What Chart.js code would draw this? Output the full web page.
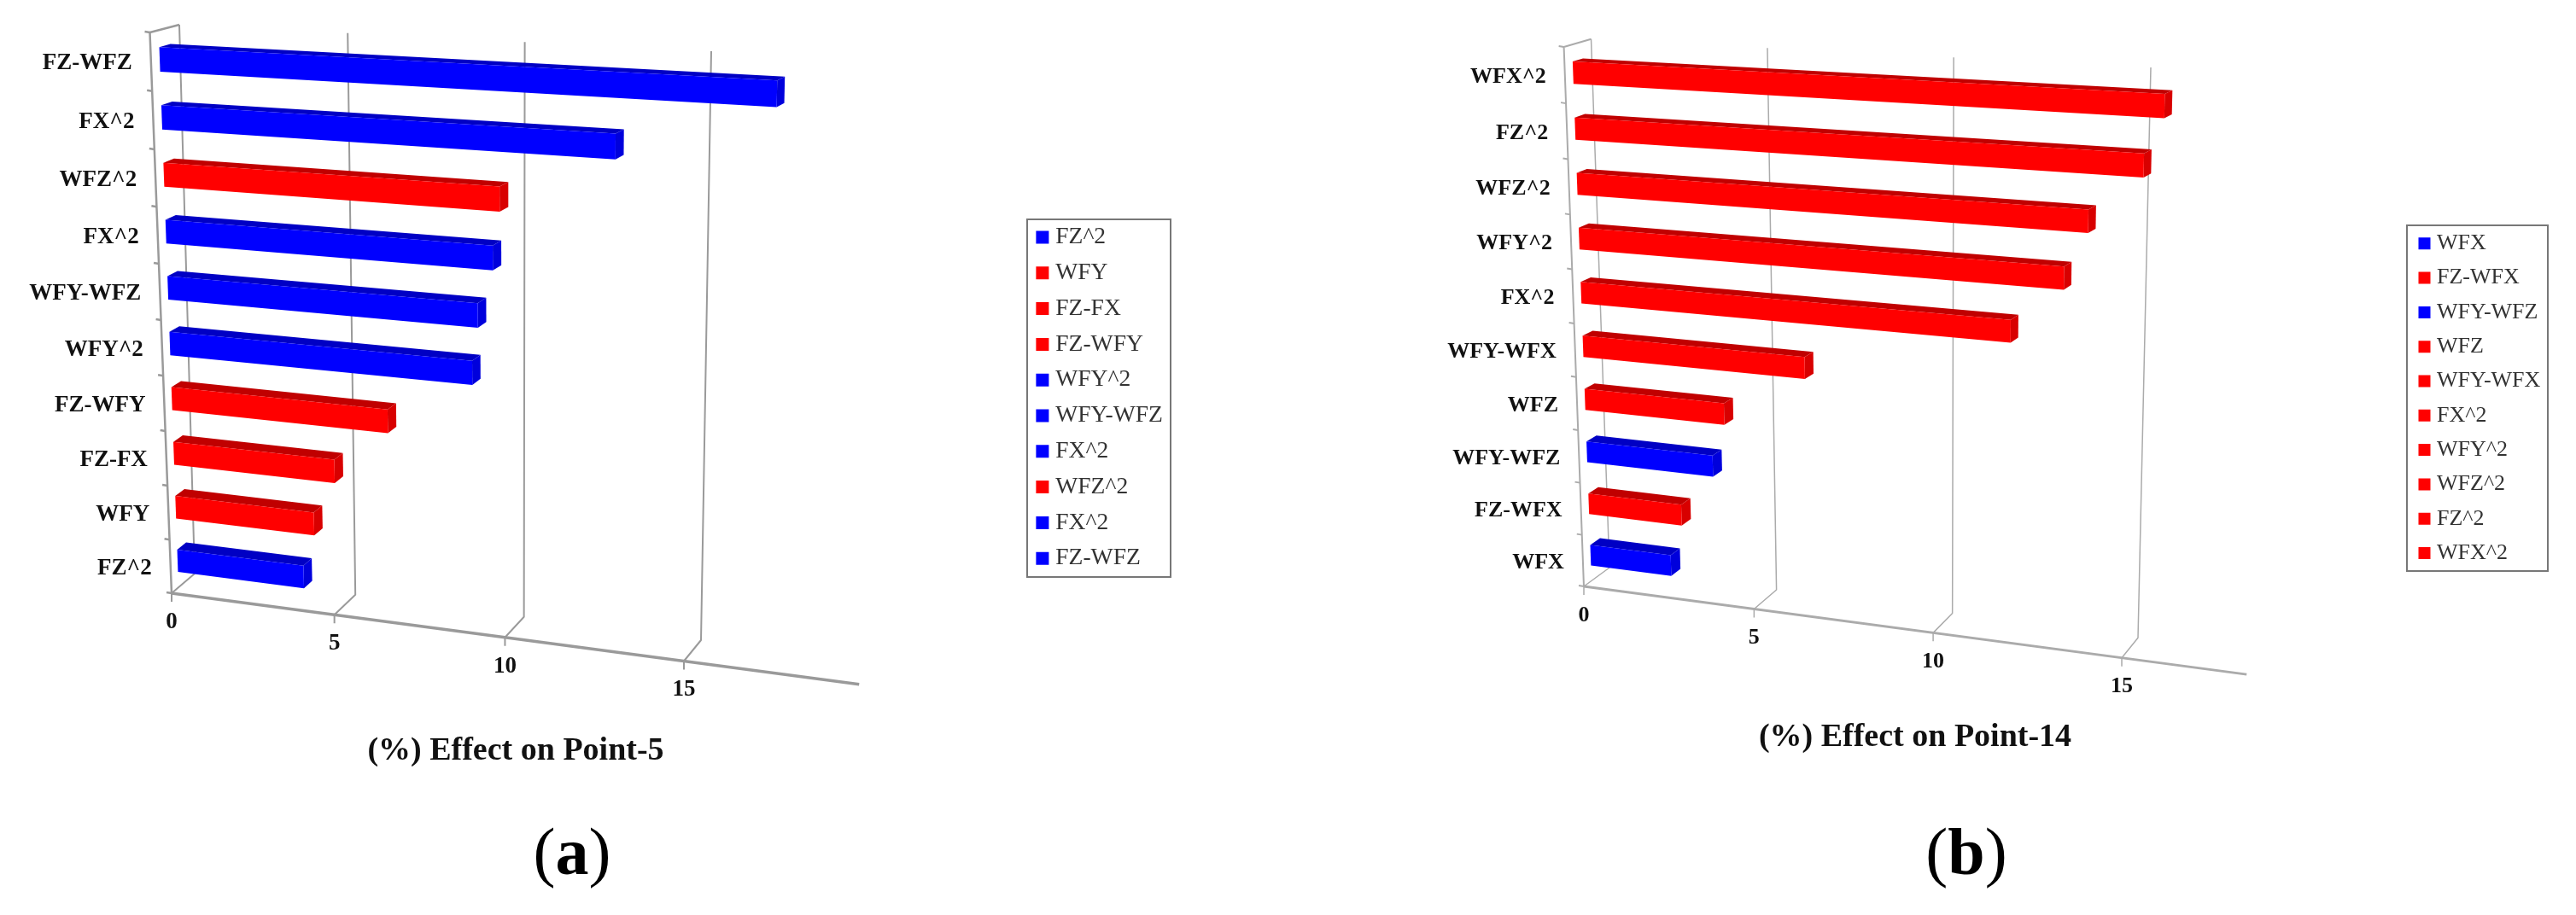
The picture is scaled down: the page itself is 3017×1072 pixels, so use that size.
<!DOCTYPE html>
<html>
<head>
<meta charset="utf-8">
<title>Effect on Point-5 and Point-14</title>
<script src="https://cdn.jsdelivr.net/npm/chart.js@4"></script>
<style>
  html, body { margin: 0; background: #fff; }
  body { position: relative; width: 3017px; height: 1072px; overflow: hidden; }
  canvas { position: absolute; top: 0; filter: blur(0.7px); }
  .tag { position: absolute; top: 948px; width: 200px; text-align: center; color: #000;
         font: 78px/100px "Liberation Serif", serif; filter: blur(0.7px); }
</style>
</head>
<body>
<canvas id="chartA" width="1508" height="1072" style="left:0"></canvas>
<canvas id="chartB" width="1509" height="1072" style="left:1508px"></canvas>
<div class="tag" style="left:570px">(<b>a</b>)</div>
<div class="tag" style="left:2203px">(<b>b</b>)</div>

<script>
// Data, bottom bar first (same order as the legends)
const categoriesA = ['FZ^2', 'WFY', 'FZ-FX', 'FZ-WFY', 'WFY^2', 'WFY-WFZ', 'FX^2', 'WFZ^2', 'FX^2', 'FZ-WFZ'];
const valuesA = [3.9, 4.25, 4.9, 6.5, 8.95, 9.12, 9.55, 9.75, 12.9, 17.08];
const groupsA = ['b', 'r', 'r', 'r', 'b', 'b', 'b', 'r', 'b', 'b'];

const categoriesB = ['WFX', 'FZ-WFX', 'WFY-WFZ', 'WFZ', 'WFY-WFX', 'FX^2', 'WFY^2', 'WFZ^2', 'FZ^2', 'WFX^2'];
const valuesB = [2.4, 2.75, 3.7, 4.06, 6.36, 11.9, 13.26, 13.86, 15.22, 15.7];
const groupsB = ['b', 'r', 'b', 'r', 'r', 'r', 'r', 'r', 'r', 'r'];

const tickValues = [0, 5, 10, 15];

const shades = {
  r: { front: '#ff0000', top: '#c00000', side: '#d80000' },
  b: { front: '#0000ff', top: '#0000c4', side: '#0000dc' }
};

const SERIF = '"Liberation Serif", serif';

// Square -> quad projection (p0 = bottom left, p1 = bottom right, p2 = top right, p3 = top left)
function quadMap(q) {
  const [x0, y0] = q[0], [x1, y1] = q[1], [x2, y2] = q[2], [x3, y3] = q[3];
  const dx1 = x1 - x2, dx2 = x3 - x2, sx = x0 - x1 + x2 - x3;
  const dy1 = y1 - y2, dy2 = y3 - y2, sy = y0 - y1 + y2 - y3;
  const den = dx1 * dy2 - dx2 * dy1;
  const g = (sx * dy2 - dx2 * sy) / den;
  const h = (dx1 * sy - sx * dy1) / den;
  const a = x1 - x0 + g * x1, b = x3 - x0 + h * x3;
  const d = y1 - y0 + g * y1, e = y3 - y0 + h * y3;
  return (u, w) => {
    const k = g * u + h * w + 1;
    return [(a * u + b * w + x0) / k, (d * u + e * w + y0) / k];
  };
}

// Fake 3D: scale pixels are projected onto the sloped box, depth 0 = front wall, 1 = back wall
const perspective3d = {
  id: 'perspective3d',

  beforeDraw(chart, args, opts) {
    const leg = chart.legend, box = opts.legendAt;
    leg.left = box.x; leg.top = box.y;
    leg.right = box.x + 400; leg.bottom = chart.height;

    const area = chart.chartArea, sx = chart.scales.x;
    const x0 = sx.getPixelForValue(0), x15 = sx.getPixelForValue(15);
    const front = quadMap(opts.front), back = quadMap(opts.back);
    chart.$project = (px, py, depth) => {
      const u = (px - x0) / (x15 - x0), w = (area.bottom - py) / area.height;
      const f = front(u, w), b = back(u, w);
      return [f[0] + (b[0] - f[0]) * depth, f[1] + (b[1] - f[1]) * depth];
    };

    // legend frame
    const ctx = chart.ctx, r = opts.legendFrame;
    ctx.save();
    ctx.strokeStyle = '#777';
    ctx.lineWidth = 2;
    ctx.strokeRect(r[0], r[1], r[2], r[3]);
    ctx.restore();
  },

  beforeDatasetsDraw(chart, args, opts) {
    const ctx = chart.ctx, P = chart.$project, area = chart.chartArea;
    const sx = chart.scales.x, sy = chart.scales.y;

    function line(points, width) {
      ctx.lineWidth = width;
      ctx.beginPath();
      points.forEach((p, i) => i ? ctx.lineTo(p[0], p[1]) : ctx.moveTo(p[0], p[1]));
      ctx.stroke();
    }

    ctx.save();
    ctx.strokeStyle = opts.gridColor;
    ctx.lineJoin = 'round';

    tickValues.forEach(v => {
      const px = sx.getPixelForValue(v);
      const foot = P(px, area.bottom, 0);
      line([[foot[0], foot[1] + 10], foot, P(px, area.bottom, 1), P(px, area.top, 1)], opts.gridWidth);
    });

    // left wall with its ticks, top edge, floor axis
    const x0 = sx.getPixelForValue(0);
    line([P(x0, area.bottom, 0), P(x0, area.top, 0), P(x0, area.top, 1)], opts.axisWidth);
    for (let i = 0; i <= sy.max + 1; i++) {
      const t = P(x0, sy.getPixelForValue(i - 0.5), 0);
      line([[t[0] - 6, t[1] - 1], t], opts.axisWidth);
    }
    line([P(sx.getPixelForValue(sx.max), area.bottom, 0), P(x0, area.bottom, 0)], opts.axisWidth + 1);
    ctx.restore();
  },

  // replaces the flat bars, geometry still comes from the bar elements
  beforeDatasetDraw(chart, args, opts) {
    const ctx = chart.ctx, P = chart.$project;
    const groups = chart.data.datasets[args.index].groups;
    const elements = args.meta.data;

    function face(points, color) {
      ctx.fillStyle = color;
      ctx.beginPath();
      points.forEach((p, i) => i ? ctx.lineTo(p[0], p[1]) : ctx.moveTo(p[0], p[1]));
      ctx.closePath();
      ctx.fill();
    }

    for (let i = elements.length - 1; i >= 0; i--) {
      const el = elements[i].getProps(['x', 'y', 'base', 'height'], true);
      const top = el.y - el.height / 2, bot = el.y + el.height / 2;
      const c = shades[groups[i]];
      const d0 = opts.barDepth[0], d1 = opts.barDepth[1];
      face([P(el.base, top, d0), P(el.x, top, d0), P(el.x, top, d1), P(el.base, top, d1)], c.top);
      face([P(el.x, top, d0), P(el.x, bot, d0), P(el.x, bot, d1), P(el.x, top, d1)], c.side);
      face([P(el.base, top, d0), P(el.x, top, d0), P(el.x, bot, d0), P(el.base, bot, d0)], c.front);
    }
    return false;
  },

  afterDraw(chart, args, opts) {
    const ctx = chart.ctx, P = chart.$project, area = chart.chartArea;
    const sx = chart.scales.x, sy = chart.scales.y;
    const x0 = sx.getPixelForValue(0);

    ctx.save();
    ctx.fillStyle = '#111';
    ctx.textBaseline = 'middle';

    ctx.font = 'bold ' + opts.labelSize + 'px ' + SERIF;
    ctx.textAlign = 'right';
    chart.data.labels.forEach((label, i) => {
      const p = P(x0, sy.getPixelForValue(i), 0);
      ctx.fillText(label, p[0] - 22, p[1] + 2);
    });

    ctx.textAlign = 'center';
    tickValues.forEach(v => {
      const p = P(sx.getPixelForValue(v), area.bottom, 0);
      ctx.fillText(String(v), p[0], p[1] + 34);
    });

    ctx.font = 'bold 38px ' + SERIF;
    ctx.fillText(opts.title, opts.titleAt[0], opts.titleAt[1]);
    ctx.restore();
  }
};

function makePanel(id, offset, labels, values, groups, axisMax, look) {
  const shift = q => q.map(p => [p[0] - offset, p[1]]);
  new Chart(document.querySelector(id), {
    type: 'bar',
    data: {
      labels: labels,
      datasets: [{
        data: values,
        groups: groups,
        backgroundColor: groups.map(g => shades[g].front),
        barPercentage: look.barPercentage,
        categoryPercentage: 1
      }]
    },
    plugins: [perspective3d],
    options: {
      indexAxis: 'y',
      responsive: false,
      animation: false,
      events: [],
      scales: {
        x: { type: 'linear', min: 0, max: axisMax, display: false },
        y: { type: 'category', reverse: true, display: false }
      },
      plugins: {
        tooltip: { enabled: false },
        legend: {
          position: 'right',
          align: 'start',
          labels: {
            color: '#333',
            font: { family: SERIF, size: look.legendSize },
            usePointStyle: true,
            boxWidth: 3,
            boxHeight: look.legendBox,
            padding: look.legendPadding,
            generateLabels: () => labels.map((text, i) => ({
              text: text,
              fillStyle: shades[groups[i]].front,
              strokeStyle: shades[groups[i]].front,
              lineWidth: 0,
              pointStyle: 'rect',
              fontColor: '#333'
            }))
          }
        },
        perspective3d: {
          front: shift(look.front),
          back: shift(look.back),
          barDepth: [0.3, 0.68],
          gridColor: look.gridColor,
          gridWidth: look.gridWidth,
          axisWidth: look.axisWidth,
          labelSize: look.labelSize,
          title: look.title,
          titleAt: [look.titleAt[0] - offset, look.titleAt[1]],
          legendAt: { x: look.legendAt[0] - offset, y: look.legendAt[1] },
          legendFrame: [look.legendFrame[0] - offset, look.legendFrame[1], look.legendFrame[2], look.legendFrame[3]]
        }
      }
    }
  });
}

makePanel('#chartA', 0, categoriesA, valuesA, groupsA, 19.67, {
  front: [[201, 695], [801, 774.5], [808, 71], [175.5, 38]],
  back: [[228, 672], [821, 750], [833, 60], [210, 29]],
  barPercentage: 0.42,
  gridColor: '#9a9a9a', gridWidth: 2, axisWidth: 2.5,
  labelSize: 27, legendSize: 27.6, legendBox: 15, legendPadding: 14.2,
  title: '(%) Effect on Point-5', titleAt: [604, 880],
  legendAt: [1205.2, 250], legendFrame: [1203, 257, 168, 419]
});

makePanel('#chartB', 1508, categoriesB, valuesB, groupsB, 18.17, {
  front: [[1855, 687], [2485, 770.7], [2495, 90], [1831.6, 55]],
  back: [[1885, 665], [2504, 747.3], [2519, 79], [1863.5, 45.7]],
  barPercentage: 0.40,
  gridColor: '#ababab', gridWidth: 1.5, axisWidth: 2,
  labelSize: 26, legendSize: 26, legendBox: 14, legendPadding: 14.3,
  title: '(%) Effect on Point-14', titleAt: [2243, 864],
  legendAt: [2823.7, 258], legendFrame: [2819, 264, 165, 405]
});
</script>
</body>
</html>
